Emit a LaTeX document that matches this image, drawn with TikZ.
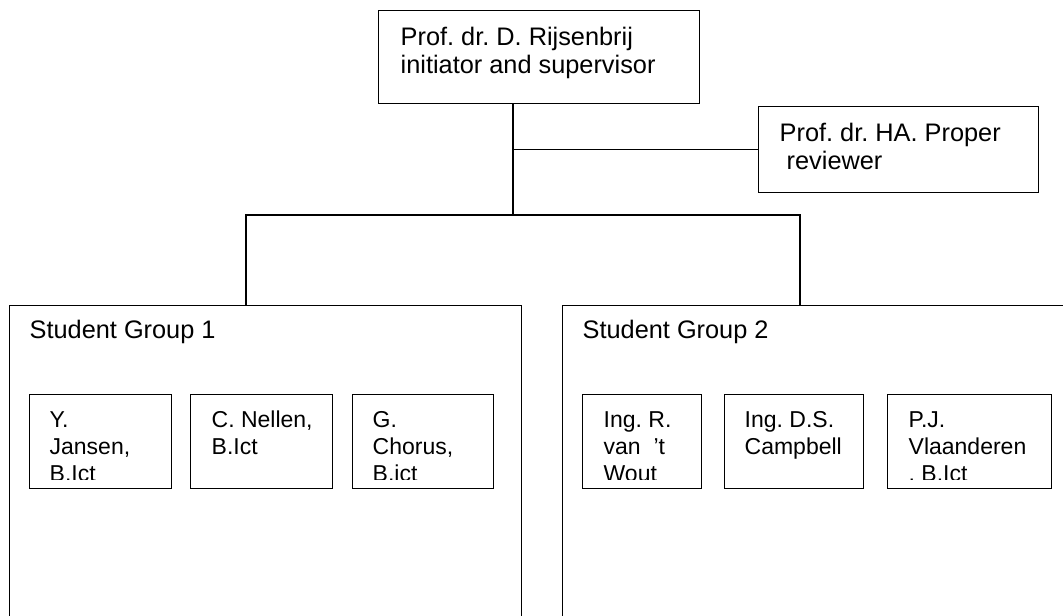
\documentclass[tikz,border=0pt]{standalone}
\usepackage{fontspec}
\setmainfont{Liberation Sans}
\usetikzlibrary{calc}
\frenchspacing
\newcommand{\twolines}[2]{\vtop{\hbox{#1}\hbox{#2}}}
\newcommand{\threelines}[3]{\vtop{\hbox{#1}\hbox{#2}\hbox{#3}}}
\begin{document}
\begin{tikzpicture}[x=0.75pt,y=-0.75pt,line width=1pt,
  box/.style={draw, rectangle, inner sep=0pt, anchor=north west},
  bigtext/.style={font=\fontsize{19}{21.2}\selectfont, inner sep=0pt, anchor=base west},
  smalltext/.style={font=\fontsize{17.25}{20.25}\selectfont, inner sep=0pt, anchor=base west}]
\useasboundingbox (0,0) rectangle (1063,615);
\clip (0,0) rectangle (1063,615);

% boxes
\node[box, minimum width=240.75pt, minimum height=69.75pt] (top) at (378,10) {};
\node[box, minimum width=210pt, minimum height=64.5pt] (rev) at (758,106) {};
\node[box, minimum width=384pt, minimum height=296.25pt] (g1) at (9,305) {};
\node[box, minimum width=403.5pt, minimum height=296.25pt] (g2) at (562,305) {};
\node[box, minimum width=106.5pt, minimum height=70.5pt] (b1) at (29,394) {};
\node[box, minimum width=106.5pt, minimum height=70.5pt] (b2) at (190,394) {};
\node[box, minimum width=105.75pt, minimum height=70.5pt] (b3) at (352,394) {};
\node[box, minimum width=89.25pt, minimum height=70.5pt] (b4) at (582,394) {};
\node[box, minimum width=104.25pt, minimum height=70.5pt] (b5) at (724,394) {};
\node[box, minimum width=123pt, minimum height=70.5pt] (b6) at (887,394) {};

% texts
\node[bigtext] (ttop) at (400,45) {\baselineskip=21.2pt\twolines{Prof. dr. D. Rijsenbrij}{initiator and supervisor}};
\node[bigtext] (trev) at (779,141) {\baselineskip=21.5pt\twolines{Prof. dr. HA. Proper}{\ reviewer}};
\node[bigtext] (tg1) at (29,338) {Student Group 1};
\node[bigtext] (tg2) at (582,338) {Student Group 2};

\begin{scope}
\clip (b1.north west) rectangle ($(b1.south east)+(0,-10)$);
\node[smalltext] (t1) at (49,427) {\baselineskip=20.25pt\threelines{Y.}{Jansen,}{B.Ict}};
\end{scope}
\begin{scope}
\clip (b2.north west) rectangle ($(b2.south east)+(0,-10)$);
\node[smalltext] (t2) at (211,427) {\baselineskip=20.25pt\twolines{C. Nellen,}{B.Ict}};
\end{scope}
\begin{scope}
\clip (b3.north west) rectangle ($(b3.south east)+(0,-10)$);
\node[smalltext] (t3) at (372,427) {\baselineskip=20.25pt\threelines{G.}{Chorus,}{B.ict}};
\end{scope}
\begin{scope}
\clip (b4.north west) rectangle ($(b4.south east)+(0,-10)$);
\node[smalltext] (t4) at (603,427) {\baselineskip=20.25pt\threelines{Ing. R.}{van\ \ ’t}{Wout}};
\end{scope}
\begin{scope}
\clip (b5.north west) rectangle ($(b5.south east)+(0,-10)$);
\node[smalltext] (t5) at (744,427) {\baselineskip=20.25pt\twolines{Ing. D.S.}{Campbell}};
\end{scope}
\begin{scope}
\clip (b6.north west) rectangle ($(b6.south east)+(0,-10)$);
\node[smalltext] (t6) at (908,427) {\baselineskip=20.25pt\threelines{P.J.}{Vlaanderen}{, B.Ict}};
\end{scope}

% connectors
\coordinate (tj) at (513,215);
\coordinate (bl) at (246,215);
\coordinate (br) at (800,215);
\draw (top.south -| tj) -- (tj);
\draw (rev.west -| tj) -- (rev.west);
\draw (bl |- g1.north) -- (bl) -- (br) -- (br |- g2.north);
\end{tikzpicture}
\end{document}
